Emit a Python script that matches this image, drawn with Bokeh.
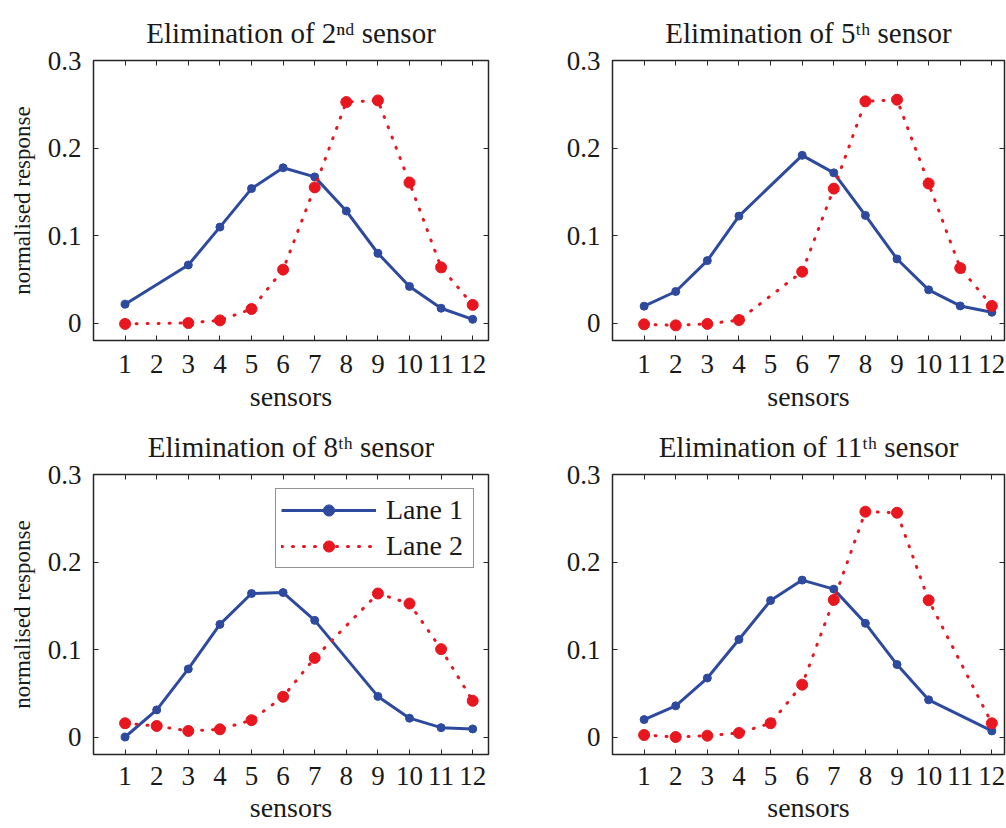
from bokeh.plotting import figure
from bokeh.layouts import column, row
from bokeh.models import LinearAxis, FixedTicker, Range1d
from bokeh.embed import file_html
from bokeh.resources import INLINE

# ---------------- data ----------------
sensors = [1, 2, 3, 4, 5, 6, 7, 8, 9, 10, 11, 12]
eliminated = [2, 5, 8, 11]
titles = [
    "Elimination of 2\u207f\u1d48 sensor",
    "Elimination of 5\u1d57\u02b0 sensor",
    "Elimination of 8\u1d57\u02b0 sensor",
    "Elimination of 11\u1d57\u02b0 sensor",
]
y_ticks = [0, 0.1, 0.2, 0.3]
y_tick_labels = ["0", "0.1", "0.2", "0.3"]

# values at the remaining 11 sensors (eliminated sensor left out)
lane1_elim2 = [0.0215, 0.0663, 0.1096, 0.1536, 0.1774, 0.1670, 0.1280, 0.0797, 0.0418, 0.0169, 0.0042]
lane2_elim2 = [-0.0010, 0.0000, 0.0030, 0.0160, 0.0610, 0.1550, 0.2525, 0.2544, 0.1605, 0.0636, 0.0207]

lane1_elim5 = [0.0192, 0.0360, 0.0713, 0.1222, 0.1916, 0.1716, 0.1230, 0.0732, 0.0379, 0.0195, 0.0123]
lane2_elim5 = [-0.0015, -0.0027, -0.0010, 0.0034, 0.0586, 0.1536, 0.2533, 0.2552, 0.1594, 0.0628, 0.0195]

lane1_elim8 = [0.0000, 0.0310, 0.0778, 0.1287, 0.1640, 0.1651, 0.1333, 0.0464, 0.0215, 0.0107, 0.0092]
lane2_elim8 = [0.0157, 0.0126, 0.0069, 0.0088, 0.0192, 0.0460, 0.0904, 0.1640, 0.1525, 0.1004, 0.0414]

lane1_elim11 = [0.0199, 0.0356, 0.0674, 0.1115, 0.1560, 0.1793, 0.1690, 0.1299, 0.0828, 0.0425, 0.0069]
lane2_elim11 = [0.0023, 0.0000, 0.0015, 0.0046, 0.0157, 0.0598, 0.1567, 0.2575, 0.2563, 0.1563, 0.0157]

lane1_all = [lane1_elim2, lane1_elim5, lane1_elim8, lane1_elim11]
lane2_all = [lane2_elim2, lane2_elim5, lane2_elim8, lane2_elim11]

# ---------------- style ----------------
FONT = "Liberation Serif"
TXT = "#1a1a1a"
BLUE = "#2e4a9e"
RED = "#e8161f"
FRAME = "#262626"


def style_axis(ax, ticks, size="27px", standoff=10, hidden=False):
    ax.ticker = FixedTicker(ticks=ticks)
    ax.axis_line_color = None
    ax.major_tick_in = 5
    ax.major_tick_out = 0
    ax.major_tick_line_color = FRAME
    ax.major_tick_line_width = 1
    ax.minor_tick_line_color = None
    ax.major_label_text_font = FONT
    ax.major_label_text_font_size = size
    ax.major_label_text_color = None if hidden else TXT
    ax.major_label_standoff = standoff


def make_panel(i, left, top, legend=False):
    elim = eliminated[i]
    xs = [s for s in sensors if s != elim]
    p = figure(
        frame_width=395 if left else 392,
        frame_height=280,
        x_range=Range1d(0, 12.5 if left else 12.4),
        y_range=Range1d(-0.02, 0.3),
        output_backend="svg", toolbar_location=None,
        min_border_left=93 if left else 114,
        min_border_right=10 if left else 2,
        min_border_top=60 if top else 57,
        min_border_bottom=77 if top else 74,
        background_fill_color="white", border_fill_color="white",
    )
    p.grid.visible = False
    p.outline_line_color = FRAME
    p.outline_line_width = 1.5

    p.title.text = titles[i]
    p.title.align = "center"
    p.title.text_font = FONT
    p.title.text_font_size = "29px"
    p.title.text_font_style = "normal"
    p.title.text_color = TXT
    p.title.standoff = 23

    style_axis(p.xaxis[0], sensors, standoff=14 if top else 12)
    style_axis(p.yaxis[0], y_ticks, standoff=12)
    p.yaxis[0].major_label_overrides = dict(zip(y_ticks, y_tick_labels))

    p.xaxis.axis_label = "sensors"
    p.xaxis.axis_label_text_font = FONT
    p.xaxis.axis_label_text_font_size = "28px"
    p.xaxis.axis_label_text_font_style = "normal"
    p.xaxis.axis_label_text_color = TXT
    p.xaxis.axis_label_standoff = 5 if top else 4
    if left:
        p.yaxis.axis_label = "normalised response"
        p.yaxis.axis_label_text_font = FONT
        p.yaxis.axis_label_text_font_size = "23px"
        p.yaxis.axis_label_text_font_style = "normal"
        p.yaxis.axis_label_text_color = TXT
        p.yaxis.axis_label_standoff = 10

    # box ticks on top and right (MATLAB style), without labels
    ax_top = LinearAxis()
    style_axis(ax_top, sensors, size="1px", standoff=0, hidden=True)
    p.add_layout(ax_top, "above")
    ax_right = LinearAxis()
    style_axis(ax_right, y_ticks, size="1px", standoff=0, hidden=True)
    p.add_layout(ax_right, "right")

    kw1 = dict(legend_label="Lane 1") if legend else {}
    kw2 = dict(legend_label="Lane 2") if legend else {}
    p.line(xs, lane1_all[i], line_color=BLUE, line_width=3, **kw1)
    p.scatter(xs, lane1_all[i], marker="circle", size=8, fill_color=BLUE, line_color=BLUE, **kw1)
    p.line(xs, lane2_all[i], line_color=RED, line_width=3, line_dash="1 10", line_cap="round", **kw2)
    p.scatter(xs, lane2_all[i], marker="circle", size=11, fill_color=RED, line_color=RED, **kw2)

    if legend:
        lg = p.legend[0]
        lg.location = "top_right"
        lg.margin = 14
        lg.padding = 5
        lg.spacing = 4
        lg.glyph_width = 95
        lg.glyph_height = 28
        lg.label_standoff = 10
        lg.label_width = 82
        lg.label_height = 28
        lg.label_text_font = FONT
        lg.label_text_font_size = "28px"
        lg.label_text_color = TXT
        lg.border_line_color = FRAME
        lg.border_line_width = 1.5
        lg.background_fill_color = "white"
        lg.background_fill_alpha = 1
    return p


p1 = make_panel(0, left=True, top=True)
p2 = make_panel(1, left=False, top=True)
p3 = make_panel(2, left=True, top=False, legend=True)
p4 = make_panel(3, left=False, top=False)

layout = column(row(p1, p2), row(p3, p4))

open("out.html", "w").write(file_html(layout, INLINE))
